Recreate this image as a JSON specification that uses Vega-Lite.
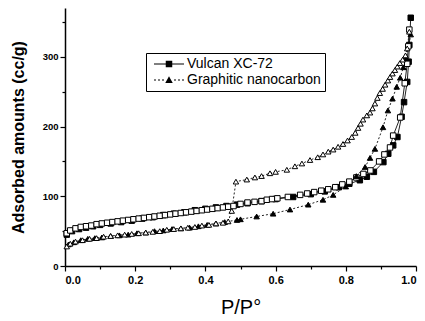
{
  "$schema": "https://vega.github.io/schema/vega-lite/v6.json",
  "width": 351,
  "height": 258,
  "autosize": {"type": "none"},
  "padding": {"left": 65, "top": 8, "right": 9, "bottom": 55},
  "background": "white",
  "config": {
    "view": {"stroke": null},
    "font": "Liberation Sans",
    "axis": {"grid": false, "domainColor": "black", "tickColor": "black", "labelColor": "black", "titleColor": "black", "domainWidth": 1.5, "tickWidth": 1.2}
  },
  "data": {
    "values": [
      {"s":"Vulcan XC-72","b":"ads","x":0.005,"y":45},{"s":"Vulcan XC-72","b":"ads","x":0.02,"y":50},{"s":"Vulcan XC-72","b":"ads","x":0.04,"y":53},{"s":"Vulcan XC-72","b":"ads","x":0.06,"y":55},{"s":"Vulcan XC-72","b":"ads","x":0.08,"y":57},{"s":"Vulcan XC-72","b":"ads","x":0.10,"y":59},{"s":"Vulcan XC-72","b":"ads","x":0.13,"y":61},{"s":"Vulcan XC-72","b":"ads","x":0.16,"y":63},{"s":"Vulcan XC-72","b":"ads","x":0.19,"y":65},{"s":"Vulcan XC-72","b":"ads","x":0.22,"y":68},{"s":"Vulcan XC-72","b":"ads","x":0.25,"y":70},{"s":"Vulcan XC-72","b":"ads","x":0.28,"y":73},{"s":"Vulcan XC-72","b":"ads","x":0.31,"y":75},{"s":"Vulcan XC-72","b":"ads","x":0.34,"y":77},{"s":"Vulcan XC-72","b":"ads","x":0.37,"y":80},{"s":"Vulcan XC-72","b":"ads","x":0.40,"y":82},{"s":"Vulcan XC-72","b":"ads","x":0.43,"y":84},{"s":"Vulcan XC-72","b":"ads","x":0.46,"y":86},{"s":"Vulcan XC-72","b":"ads","x":0.49,"y":88},{"s":"Vulcan XC-72","b":"ads","x":0.52,"y":90},{"s":"Vulcan XC-72","b":"ads","x":0.56,"y":93},{"s":"Vulcan XC-72","b":"ads","x":0.60,"y":96},{"s":"Vulcan XC-72","b":"ads","x":0.65,"y":99},{"s":"Vulcan XC-72","b":"ads","x":0.70,"y":103},{"s":"Vulcan XC-72","b":"ads","x":0.74,"y":107},{"s":"Vulcan XC-72","b":"ads","x":0.78,"y":113},{"s":"Vulcan XC-72","b":"ads","x":0.81,"y":118},{"s":"Vulcan XC-72","b":"ads","x":0.84,"y":123},{"s":"Vulcan XC-72","b":"ads","x":0.86,"y":128},{"s":"Vulcan XC-72","b":"ads","x":0.88,"y":135},{"s":"Vulcan XC-72","b":"ads","x":0.907,"y":149},{"s":"Vulcan XC-72","b":"ads","x":0.921,"y":161},{"s":"Vulcan XC-72","b":"ads","x":0.935,"y":173},{"s":"Vulcan XC-72","b":"ads","x":0.947,"y":185},{"s":"Vulcan XC-72","b":"ads","x":0.959,"y":214},{"s":"Vulcan XC-72","b":"ads","x":0.966,"y":235},{"s":"Vulcan XC-72","b":"ads","x":0.975,"y":264},{"s":"Vulcan XC-72","b":"ads","x":0.979,"y":293},{"s":"Vulcan XC-72","b":"ads","x":0.981,"y":317},{"s":"Vulcan XC-72","b":"ads","x":0.985,"y":356},
      {"s":"Graphitic nanocarbon","b":"ads","x":0.01,"y":31},{"s":"Graphitic nanocarbon","b":"ads","x":0.025,"y":34},{"s":"Graphitic nanocarbon","b":"ads","x":0.045,"y":37},{"s":"Graphitic nanocarbon","b":"ads","x":0.065,"y":39},{"s":"Graphitic nanocarbon","b":"ads","x":0.085,"y":40},{"s":"Graphitic nanocarbon","b":"ads","x":0.105,"y":41},{"s":"Graphitic nanocarbon","b":"ads","x":0.13,"y":43},{"s":"Graphitic nanocarbon","b":"ads","x":0.155,"y":44},{"s":"Graphitic nanocarbon","b":"ads","x":0.18,"y":45},{"s":"Graphitic nanocarbon","b":"ads","x":0.205,"y":47},{"s":"Graphitic nanocarbon","b":"ads","x":0.23,"y":48},{"s":"Graphitic nanocarbon","b":"ads","x":0.255,"y":50},{"s":"Graphitic nanocarbon","b":"ads","x":0.28,"y":51},{"s":"Graphitic nanocarbon","b":"ads","x":0.305,"y":53},{"s":"Graphitic nanocarbon","b":"ads","x":0.33,"y":54},{"s":"Graphitic nanocarbon","b":"ads","x":0.355,"y":55},{"s":"Graphitic nanocarbon","b":"ads","x":0.38,"y":57},{"s":"Graphitic nanocarbon","b":"ads","x":0.405,"y":59},{"s":"Graphitic nanocarbon","b":"ads","x":0.43,"y":61},{"s":"Graphitic nanocarbon","b":"ads","x":0.455,"y":63},{"s":"Graphitic nanocarbon","b":"ads","x":0.49,"y":66},{"s":"Graphitic nanocarbon","b":"ads","x":0.50,"y":67},{"s":"Graphitic nanocarbon","b":"ads","x":0.546,"y":71},{"s":"Graphitic nanocarbon","b":"ads","x":0.593,"y":75},{"s":"Graphitic nanocarbon","b":"ads","x":0.641,"y":81},{"s":"Graphitic nanocarbon","b":"ads","x":0.693,"y":88},{"s":"Graphitic nanocarbon","b":"ads","x":0.735,"y":95},{"s":"Graphitic nanocarbon","b":"ads","x":0.764,"y":102},{"s":"Graphitic nanocarbon","b":"ads","x":0.80,"y":114},{"s":"Graphitic nanocarbon","b":"ads","x":0.83,"y":129},{"s":"Graphitic nanocarbon","b":"ads","x":0.855,"y":142},{"s":"Graphitic nanocarbon","b":"ads","x":0.869,"y":155},{"s":"Graphitic nanocarbon","b":"ads","x":0.883,"y":168},{"s":"Graphitic nanocarbon","b":"ads","x":0.906,"y":199},{"s":"Graphitic nanocarbon","b":"ads","x":0.92,"y":223},{"s":"Graphitic nanocarbon","b":"ads","x":0.933,"y":240},{"s":"Graphitic nanocarbon","b":"ads","x":0.945,"y":257},{"s":"Graphitic nanocarbon","b":"ads","x":0.955,"y":270},{"s":"Graphitic nanocarbon","b":"ads","x":0.964,"y":285},{"s":"Graphitic nanocarbon","b":"ads","x":0.972,"y":298},{"s":"Graphitic nanocarbon","b":"ads","x":0.985,"y":332},
      {"s":"Vulcan XC-72","b":"des","x":0.005,"y":47},{"s":"Vulcan XC-72","b":"des","x":0.015,"y":51},{"s":"Vulcan XC-72","b":"des","x":0.03,"y":54},{"s":"Vulcan XC-72","b":"des","x":0.045,"y":56},{"s":"Vulcan XC-72","b":"des","x":0.06,"y":57},{"s":"Vulcan XC-72","b":"des","x":0.075,"y":58},{"s":"Vulcan XC-72","b":"des","x":0.09,"y":60},{"s":"Vulcan XC-72","b":"des","x":0.105,"y":61},{"s":"Vulcan XC-72","b":"des","x":0.12,"y":62},{"s":"Vulcan XC-72","b":"des","x":0.135,"y":63},{"s":"Vulcan XC-72","b":"des","x":0.15,"y":64},{"s":"Vulcan XC-72","b":"des","x":0.165,"y":65},{"s":"Vulcan XC-72","b":"des","x":0.18,"y":66},{"s":"Vulcan XC-72","b":"des","x":0.195,"y":67},{"s":"Vulcan XC-72","b":"des","x":0.21,"y":68},{"s":"Vulcan XC-72","b":"des","x":0.225,"y":69},{"s":"Vulcan XC-72","b":"des","x":0.24,"y":70},{"s":"Vulcan XC-72","b":"des","x":0.255,"y":71},{"s":"Vulcan XC-72","b":"des","x":0.27,"y":72},{"s":"Vulcan XC-72","b":"des","x":0.285,"y":73},{"s":"Vulcan XC-72","b":"des","x":0.30,"y":74},{"s":"Vulcan XC-72","b":"des","x":0.315,"y":75},{"s":"Vulcan XC-72","b":"des","x":0.33,"y":76},{"s":"Vulcan XC-72","b":"des","x":0.345,"y":77},{"s":"Vulcan XC-72","b":"des","x":0.36,"y":78},{"s":"Vulcan XC-72","b":"des","x":0.375,"y":79},{"s":"Vulcan XC-72","b":"des","x":0.39,"y":80},{"s":"Vulcan XC-72","b":"des","x":0.405,"y":81},{"s":"Vulcan XC-72","b":"des","x":0.42,"y":82},{"s":"Vulcan XC-72","b":"des","x":0.435,"y":83},{"s":"Vulcan XC-72","b":"des","x":0.45,"y":84},{"s":"Vulcan XC-72","b":"des","x":0.465,"y":85},{"s":"Vulcan XC-72","b":"des","x":0.48,"y":86},{"s":"Vulcan XC-72","b":"des","x":0.50,"y":89},{"s":"Vulcan XC-72","b":"des","x":0.52,"y":91},{"s":"Vulcan XC-72","b":"des","x":0.54,"y":92},{"s":"Vulcan XC-72","b":"des","x":0.56,"y":93},{"s":"Vulcan XC-72","b":"des","x":0.575,"y":95},{"s":"Vulcan XC-72","b":"des","x":0.59,"y":96},{"s":"Vulcan XC-72","b":"des","x":0.605,"y":97},{"s":"Vulcan XC-72","b":"des","x":0.635,"y":99},{"s":"Vulcan XC-72","b":"des","x":0.67,"y":102},{"s":"Vulcan XC-72","b":"des","x":0.69,"y":104},{"s":"Vulcan XC-72","b":"des","x":0.71,"y":106},{"s":"Vulcan XC-72","b":"des","x":0.73,"y":108},{"s":"Vulcan XC-72","b":"des","x":0.75,"y":110},{"s":"Vulcan XC-72","b":"des","x":0.77,"y":113},{"s":"Vulcan XC-72","b":"des","x":0.79,"y":117},{"s":"Vulcan XC-72","b":"des","x":0.81,"y":121},{"s":"Vulcan XC-72","b":"des","x":0.83,"y":127},{"s":"Vulcan XC-72","b":"des","x":0.85,"y":132},{"s":"Vulcan XC-72","b":"des","x":0.87,"y":137},{"s":"Vulcan XC-72","b":"des","x":0.895,"y":150},{"s":"Vulcan XC-72","b":"des","x":0.91,"y":160},{"s":"Vulcan XC-72","b":"des","x":0.926,"y":170},{"s":"Vulcan XC-72","b":"des","x":0.935,"y":187},{"s":"Vulcan XC-72","b":"des","x":0.955,"y":213},{"s":"Vulcan XC-72","b":"des","x":0.968,"y":262},{"s":"Vulcan XC-72","b":"des","x":0.975,"y":290},{"s":"Vulcan XC-72","b":"des","x":0.978,"y":315},{"s":"Vulcan XC-72","b":"des","x":0.981,"y":339},
      {"s":"Graphitic nanocarbon","b":"des","x":0.005,"y":28},{"s":"Graphitic nanocarbon","b":"des","x":0.015,"y":32},{"s":"Graphitic nanocarbon","b":"des","x":0.03,"y":35},{"s":"Graphitic nanocarbon","b":"des","x":0.05,"y":37},{"s":"Graphitic nanocarbon","b":"des","x":0.07,"y":39},{"s":"Graphitic nanocarbon","b":"des","x":0.09,"y":40},{"s":"Graphitic nanocarbon","b":"des","x":0.11,"y":42},{"s":"Graphitic nanocarbon","b":"des","x":0.13,"y":43},{"s":"Graphitic nanocarbon","b":"des","x":0.15,"y":44},{"s":"Graphitic nanocarbon","b":"des","x":0.17,"y":45},{"s":"Graphitic nanocarbon","b":"des","x":0.19,"y":46},{"s":"Graphitic nanocarbon","b":"des","x":0.21,"y":47},{"s":"Graphitic nanocarbon","b":"des","x":0.23,"y":48},{"s":"Graphitic nanocarbon","b":"des","x":0.25,"y":49},{"s":"Graphitic nanocarbon","b":"des","x":0.27,"y":50},{"s":"Graphitic nanocarbon","b":"des","x":0.29,"y":52},{"s":"Graphitic nanocarbon","b":"des","x":0.31,"y":53},{"s":"Graphitic nanocarbon","b":"des","x":0.33,"y":54},{"s":"Graphitic nanocarbon","b":"des","x":0.35,"y":55},{"s":"Graphitic nanocarbon","b":"des","x":0.37,"y":56},{"s":"Graphitic nanocarbon","b":"des","x":0.39,"y":58},{"s":"Graphitic nanocarbon","b":"des","x":0.41,"y":59},{"s":"Graphitic nanocarbon","b":"des","x":0.43,"y":61},{"s":"Graphitic nanocarbon","b":"des","x":0.45,"y":62},{"s":"Graphitic nanocarbon","b":"des","x":0.465,"y":64},{"s":"Graphitic nanocarbon","b":"des","x":0.475,"y":79},{"s":"Graphitic nanocarbon","b":"des","x":0.487,"y":121},{"s":"Graphitic nanocarbon","b":"des","x":0.518,"y":124},{"s":"Graphitic nanocarbon","b":"des","x":0.541,"y":127},{"s":"Graphitic nanocarbon","b":"des","x":0.56,"y":129},{"s":"Graphitic nanocarbon","b":"des","x":0.584,"y":133},{"s":"Graphitic nanocarbon","b":"des","x":0.60,"y":135},{"s":"Graphitic nanocarbon","b":"des","x":0.632,"y":138},{"s":"Graphitic nanocarbon","b":"des","x":0.655,"y":143},{"s":"Graphitic nanocarbon","b":"des","x":0.675,"y":147},{"s":"Graphitic nanocarbon","b":"des","x":0.698,"y":152},{"s":"Graphitic nanocarbon","b":"des","x":0.72,"y":156},{"s":"Graphitic nanocarbon","b":"des","x":0.735,"y":160},{"s":"Graphitic nanocarbon","b":"des","x":0.75,"y":164},{"s":"Graphitic nanocarbon","b":"des","x":0.764,"y":167},{"s":"Graphitic nanocarbon","b":"des","x":0.778,"y":171},{"s":"Graphitic nanocarbon","b":"des","x":0.792,"y":175},{"s":"Graphitic nanocarbon","b":"des","x":0.805,"y":180},{"s":"Graphitic nanocarbon","b":"des","x":0.817,"y":185},{"s":"Graphitic nanocarbon","b":"des","x":0.827,"y":191},{"s":"Graphitic nanocarbon","b":"des","x":0.835,"y":198},{"s":"Graphitic nanocarbon","b":"des","x":0.842,"y":204},{"s":"Graphitic nanocarbon","b":"des","x":0.849,"y":210},{"s":"Graphitic nanocarbon","b":"des","x":0.86,"y":216},{"s":"Graphitic nanocarbon","b":"des","x":0.869,"y":220},{"s":"Graphitic nanocarbon","b":"des","x":0.876,"y":226},{"s":"Graphitic nanocarbon","b":"des","x":0.883,"y":233},{"s":"Graphitic nanocarbon","b":"des","x":0.89,"y":241},{"s":"Graphitic nanocarbon","b":"des","x":0.897,"y":248},{"s":"Graphitic nanocarbon","b":"des","x":0.905,"y":254},{"s":"Graphitic nanocarbon","b":"des","x":0.912,"y":260},{"s":"Graphitic nanocarbon","b":"des","x":0.92,"y":266},{"s":"Graphitic nanocarbon","b":"des","x":0.926,"y":271},{"s":"Graphitic nanocarbon","b":"des","x":0.933,"y":276},{"s":"Graphitic nanocarbon","b":"des","x":0.94,"y":281},{"s":"Graphitic nanocarbon","b":"des","x":0.947,"y":286},{"s":"Graphitic nanocarbon","b":"des","x":0.954,"y":291},{"s":"Graphitic nanocarbon","b":"des","x":0.962,"y":296},{"s":"Graphitic nanocarbon","b":"des","x":0.97,"y":302},{"s":"Graphitic nanocarbon","b":"des","x":0.975,"y":312},{"s":"Graphitic nanocarbon","b":"des","x":0.981,"y":336}
    ]
  },
  "encoding": {
    "x": {
      "field": "x", "type": "quantitative",
      "scale": {"domain": [0, 1], "nice": false, "zero": false},
      "axis": {
        "values": [0, 0.1, 0.2, 0.3, 0.4, 0.5, 0.6, 0.7, 0.8, 0.9, 1.0],
        "labelExpr": "round(datum.value*10) % 2 === 0 ? format(datum.value, '.1f') : ''",
        "tickSize": {"condition": {"test": "round(datum.value*10) % 2 !== 0", "value": 3}, "value": 5},
        "labelFontSize": 11, "labelFontWeight": "bold", "labelPadding": 3,
        "title": "P/P°", "titleFontSize": 20, "titleFontWeight": "normal", "titlePadding": 12
      }
    },
    "y": {
      "field": "y", "type": "quantitative",
      "scale": {"domain": [0, 370], "nice": false},
      "axis": {
        "values": [0, 50, 100, 150, 200, 250, 300, 350],
        "labelExpr": "datum.value % 100 === 0 ? datum.label : ''",
        "tickSize": {"condition": {"test": "datum.value % 100 !== 0", "value": 3}, "value": 5},
        "labelFontSize": 9.5, "labelFontWeight": "bold", "labelPadding": 2,
        "title": "Adsorbed amounts (cc/g)", "titleFontSize": 16, "titleFontWeight": "bold", "titlePadding": 16
      }
    }
  },
  "layer": [
    {
      "transform": [{"filter": "datum.s === 'Vulcan XC-72'"}],
      "mark": {"type": "line", "color": "#222", "strokeWidth": 1},
      "encoding": {"detail": {"field": "b"}}
    },
    {
      "transform": [{"filter": "datum.s === 'Graphitic nanocarbon'"}],
      "mark": {"type": "line", "color": "#222", "strokeWidth": 1, "strokeDash": [2, 2]},
      "encoding": {"detail": {"field": "b"}}
    },
    {
      "transform": [{"filter": "datum.s === 'Vulcan XC-72'"}],
      "mark": {"type": "point", "shape": "square", "filled": true, "size": 30, "stroke": "black", "strokeWidth": 1, "opacity": 1},
      "encoding": {
        "fill": {"field": "b", "type": "nominal", "scale": {"domain": ["ads", "des"], "range": ["black", "white"]}, "legend": null}
      }
    },
    {
      "transform": [{"filter": "datum.s === 'Graphitic nanocarbon'"}],
      "mark": {"type": "point", "shape": "triangle-up", "filled": true, "size": 30, "stroke": "black", "strokeWidth": 1, "opacity": 1},
      "encoding": {
        "fill": {"field": "b", "type": "nominal", "scale": {"domain": ["ads", "des"], "range": ["black", "white"]}, "legend": null}
      }
    },
    {
      "transform": [{"filter": "false"}],
      "mark": {"type": "point", "filled": true, "size": 100, "color": "black", "stroke": "black", "strokeWidth": 1},
      "encoding": {
        "shape": {
          "field": "s", "type": "nominal",
          "scale": {
            "domain": ["Vulcan XC-72", "Graphitic nanocarbon"],
            "range": [
              "M-3,-0.12H-0.65V0.12H-3ZM0.65,-0.12H3V0.12H0.65ZM-0.65,-0.65H0.65V0.65H-0.65Z",
              "M-3,-0.1H-2.6V0.1H-3ZM-2.2,-0.1H-1.8V0.1H-2.2ZM-1.4,-0.1H-1V0.1H-1.4ZM1,-0.1H1.4V0.1H1ZM1.8,-0.1H2.2V0.1H1.8ZM2.6,-0.1H3V0.1H2.6ZM-0.75,0.6L0,-0.75L0.75,0.6Z"
            ]
          },
          "legend": {
            "title": null, "orient": "none", "legendX": 81, "legendY": 45,
            "padding": 4, "rowPadding": 2, "symbolOffset": 12, "labelOffset": 11,
            "strokeColor": "black", "fillColor": "white",
            "labelFontSize": 14, "labelFont": "Liberation Sans", "labelColor": "black",
            "symbolSize": 100, "symbolFillColor": "black", "symbolStrokeColor": "black", "symbolStrokeWidth": 1, "symbolOpacity": 1
          }
        }
      }
    }
  ]
}
